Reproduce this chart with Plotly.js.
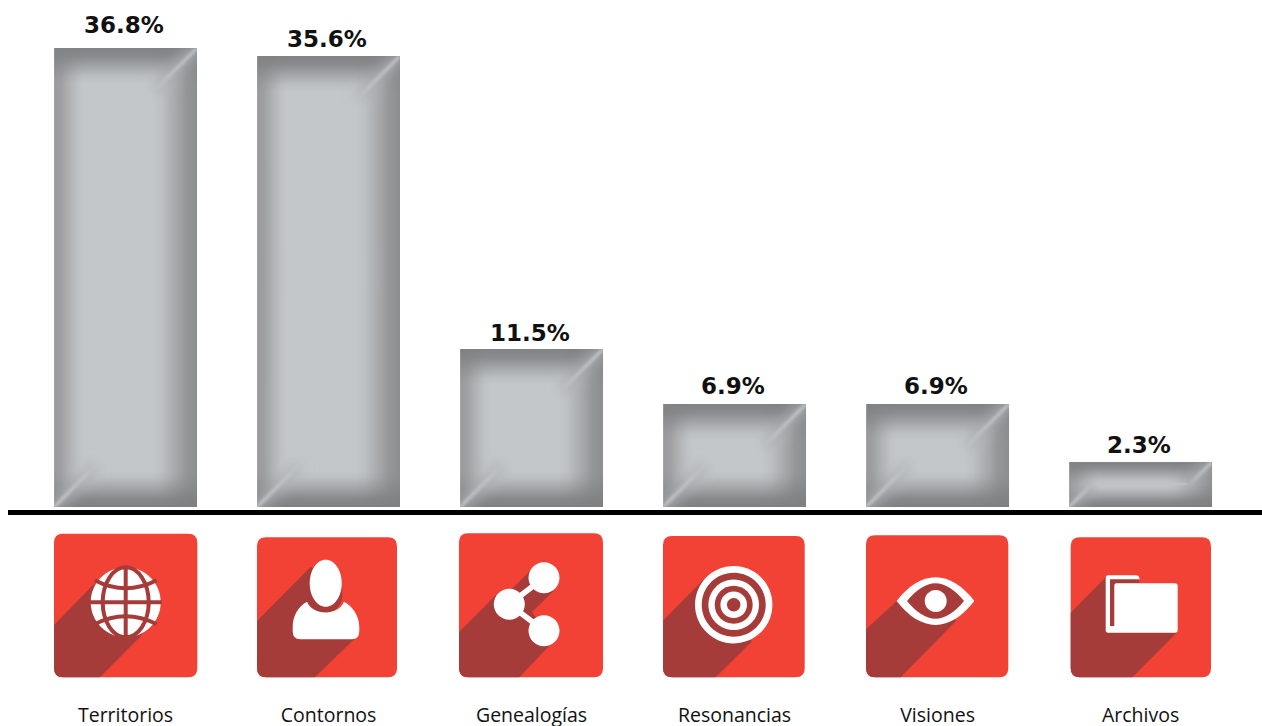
<!DOCTYPE html>
<html><head><meta charset="utf-8">
<script src="https://cdn.plot.ly/plotly-3.0.1.min.js"></script>
<style>html,body{margin:0;padding:0;background:#fff;overflow:hidden}</style></head>
<body><div id="chart" style="width:1262px;height:726px"></div>
<script>
// Data
const categories = ["Territorios","Contornos","Genealogías","Resonancias","Visiones","Archivos"];
const percentLabels = ["36.8%","35.6%","11.5%","6.9%","6.9%","2.3%"];
// Bar lengths as drawn in the picture (the source graphic is not strictly proportional to its labels)
const barHeights = [36.8,36.17,12.67,8.26,8.26,3.61];
// Style
const labelLift = [8,2,1,3,3,2];
const RED="#f24236", DARK="#a53c39", W="#ffffff";

// pixel -> paper helpers for the icon artwork
const X=x=>((x-8)/1254).toFixed(5), Y=y=>(1-y/726).toFixed(5);
function path(cmds){return cmds.map(c=>{const k=c[0];let s=k;
  for(let i=1;i<c.length;i++){ if(k==='H')s+=X(c[i]); else if(k==='V')s+=Y(c[i]);
    else s+=(i>1?' ':'')+((i%2)?X(c[i]):Y(c[i]));}
  return s;}).join(' ');}
const K=0.5523;
function ell(cx,cy,rx,ry){return [['M',cx-rx,cy],['C',cx-rx,cy-K*ry,cx-K*rx,cy-ry,cx,cy-ry],['C',cx+K*rx,cy-ry,cx+rx,cy-K*ry,cx+rx,cy],
  ['C',cx+rx,cy+K*ry,cx+K*rx,cy+ry,cx,cy+ry],['C',cx-K*rx,cy+ry,cx-rx,cy+K*ry,cx-rx,cy],['Z']];}
function rrect(x0,y0,x1,y1,r){return [['M',x0+r,y0],['H',x1-r],['Q',x1,y0,x1,y0+r],['V',y1-r],['Q',x1,y1,x1-r,y1],['H',x0+r],['Q',x0,y1,x0,y1-r],['V',y0+r],['Q',x0,y0,x0+r,y0],['Z']];}
const shapes=[];
function fill(cmds,c){shapes.push({type:'path',xref:'paper',yref:'paper',path:path(cmds),fillcolor:c,line:{width:0},layer:'above'});}
function stroke(cmds,c,w){shapes.push({type:'path',xref:'paper',yref:'paper',path:path(cmds),line:{color:c,width:w},layer:'above'});}
function card(x0,y0,x1,y1,pts){const r=9;fill(rrect(x0,y0,x1,y1,r),RED);
  const p=[['M',pts[0][0],pts[0][1]]].concat(pts.slice(1).map(q=>['L',q[0],q[1]]));
  fill(p.concat([['H',x0+r],['Q',x0,y1,x0,y1-r],['Z']]),DARK);}

// Territorios: globe
card(54,533.7,197.3,677.3,[[54,625],[93,585],[125,570],[158,612],[140,637],[100,677.3]]);
(function(){const cx=125.7,cy=602.3,R=35,LW=4;
  fill(ell(cx,cy,R,R),W);
  stroke([['M',cx,cy-R-1],['L',cx,cy+R+1]],DARK,LW);
  stroke([['M',cx-R-1,cy],['L',cx+R+1,cy]],DARK,LW);
  stroke(ell(cx,cy,23,R),DARK,LW);
  stroke([['M',cx-31,cy-22],['Q',cx,cy-6,cx+31,cy-22]],DARK,LW);
  stroke([['M',cx-31,cy+22],['Q',cx,cy+6,cx+31,cy+22]],DARK,LW);
})();
// Contornos: person
card(257,537.3,397,677.3,[[257,621],[310.7,566.7],[326,575],[330,612],[352,628],[356.7,636.7],[315,677.3]]);
fill(ell(325.7,595,16.6,18),DARK);
fill([['M',300,639.3],['Q',292.7,639.3,292.7,631],['V',627],['C',292.7,615,299,606,307,601.7],['C',313,616,338,616,344,601.7],['C',352,606,359.3,615,359.3,627],['V',631],['Q',359.3,639.3,352,639.3],['Z']],W);
fill(ell(325.7,583.3,16,23.5),W);
// Genealogías: share
card(459,533.3,603,677.3,[[459,632],[498,593],[512,589],[530,571],[544,578],[553.5,591],[532,612],[553,642],[519.3,677.3]]);
stroke([['M',509.3,604.3],['L',544,577.7]],W,5.5);
stroke([['M',509.3,604.3],['L',544,630.7]],W,5.5);
fill(ell(544,577.7,15.5,15.5),W);fill(ell(509.3,604.3,15.5,15.5),W);fill(ell(544,630.7,15.5,15.5),W);
// Resonancias: target
card(663,536,804.7,677.3,[[663,620.7],[705,578],[745,600],[751.7,641.7],[715.7,677.3]]);
[[38.7,W],[32,DARK],[25.3,W],[19,DARK],[13.3,W],[6.7,DARK]].forEach(a=>fill(ell(733.7,604.7,a[0],a[0]),a[1]));
// Visiones: eye
card(866,535.3,1008.3,677.3,[[866,629.3],[896.7,601],[950,605],[956,621],[900.7,677.3]]);
fill([['M',896.7,601],['C',908,586,922,577.3,935.5,577.3],['C',949,577.3,963,586,974.3,601],['C',963,616,949,625,935.5,625],['C',922,625,908,616,896.7,601],['Z']],W);
fill([['M',907,601],['C',916,590,926,583.3,935.5,583.3],['C',945,583.3,955,590,964,601],['C',955,612,945,618.7,935.5,618.7],['C',926,618.7,916,612,907,601],['Z']],DARK);
fill(ell(935.7,601,11,11),W);
// Archivos: folder
card(1070.7,537.3,1211,677.3,[[1070.7,612.7],[1106,577],[1139,579.5],[1139,584],[1177.7,631.7],[1132.3,677.3]]);
fill([['M',1108,575.3],['H',1136],['Q',1139.5,575.3,1139.5,579.3],['H',1110],['V',626],['H',1114.3],['V',585.5],['Q',1114.3,583.3,1116.5,583.3],['H',1175],['Q',1177.7,583.3,1177.7,586],['V',630],['Q',1177.7,632.7,1175,632.7],['H',1108],['Q',1105.7,632.7,1105.7,630],['V',578],['Q',1105.7,575.3,1108,575.3],['Z']],W);

const annotations = categories.map((c,i)=>({x:c,y:barHeights[i],xref:'x',yref:'y',text:percentLabels[i],showarrow:false,
  yanchor:'bottom',xanchor:'center',xshift:-1.5,yshift:labelLift[i],
  font:{family:'"DejaVu Sans"',size:23,color:'#111',weight:700}}));

const trace={type:'bar',x:categories,y:barHeights,width:0.704,hoverinfo:'skip',
  marker:{color:'#c3c7c9',line:{width:0}}};
const layout={width:1262,height:726,margin:{l:8,r:0,t:0,b:0},paper_bgcolor:'#fff',plot_bgcolor:'#fff',showlegend:false,
  xaxis:{type:'category',categoryorder:'array',categoryarray:categories,range:[-0.579,5.598],anchor:'free',position:1-511.5/726,
    showline:true,linecolor:'#000',linewidth:5,showgrid:false,zeroline:false,ticks:'',ticklabelstandoff:184,
    tickfont:{family:'"Open Sans"',size:19.5,color:'#111'}},
  yaxis:{range:[-219/12.47,507/12.47],domain:[0,1],visible:false,showgrid:false,zeroline:false},
  shapes,annotations};

Plotly.newPlot('chart',[trace],layout,{displayModeBar:false,responsive:false}).then(gd=>{
  const NS='http://www.w3.org/2000/svg';
  const svg=gd.querySelector('svg.main-svg');
  const defs=svg.querySelector('defs')||svg.insertBefore(document.createElementNS(NS,'defs'),svg.firstChild);
  const mk=(n,a,p)=>{const e=document.createElementNS(NS,n);for(const k in a)e.setAttribute(k,a[k]);if(p)p.appendChild(e);return e;};
  function grad(id,x1,y1,x2,y2,col){const g=mk('linearGradient',{id,x1,y1,x2,y2},defs);
    [[0,1],[.25,.85],[.5,.5],[.8,.12],[1,0]].forEach(s=>mk('stop',{offset:s[0],'stop-color':col,'stop-opacity':s[1]},g));}
  grad('gT',0,0,0,1,'#808284');grad('gB',0,1,0,0,'#7f8082');grad('gL',0,0,1,0,'#9a9a9c');grad('gR',1,0,0,0,'#8d8e90');
  const f=mk('filter',{id:'soft',x:'-50%',y:'-50%',width:'200%',height:'200%'},defs);mk('feGaussianBlur',{stdDeviation:1.8},f);
  const f2=mk('filter',{id:'soft2',x:'-50%',y:'-50%',width:'200%',height:'200%'},defs);mk('feGaussianBlur',{stdDeviation:6},f2);
  gd.querySelectorAll('.bars .point path').forEach((p,i)=>{
    const b=p.getBBox(),w=b.width,h=b.height,id='bevel'+i;
    const pat=mk('pattern',{id,patternUnits:'userSpaceOnUse',x:b.x,y:b.y,width:w,height:h},defs);
    mk('rect',{width:w,height:h,fill:'#c3c7c9'},pat);
    const v=Math.min(36,h/2),l=30,r=44;
    mk('rect',{x:0,y:0,width:l,height:h,fill:'url(#gL)'},pat);
    mk('rect',{x:w-r,y:0,width:r,height:h,fill:'url(#gR)'},pat);
    mk('rect',{x:0,y:0,width:w,height:v,fill:'url(#gT)'},pat);
    mk('rect',{x:0,y:h-v,width:w,height:v,fill:'url(#gB)'},pat);
    const d=Math.min(42,h/2);
    [[w,0,w-d,d],[0,h,d,h-d]].forEach((q,j)=>{
      const gid='hl'+i+'_'+j;
      const lg=mk('linearGradient',{id:gid,gradientUnits:'userSpaceOnUse',x1:q[0],y1:q[1],x2:q[2],y2:q[3]},defs);
      mk('stop',{offset:0,'stop-color':'#c6cacc','stop-opacity':1},lg);
      mk('stop',{offset:.7,'stop-color':'#c3c7c9','stop-opacity':.9},lg);
      mk('stop',{offset:1,'stop-color':'#c3c7c9','stop-opacity':.3},lg);
      mk('line',{x1:q[0],y1:q[1],x2:q[2],y2:q[3],stroke:'#aeb1b3','stroke-width':14,filter:'url(#soft2)',opacity:.75},pat);
      mk('line',{x1:q[0],y1:q[1],x2:q[2],y2:q[3],stroke:'url(#'+gid+')','stroke-width':3,filter:'url(#soft)'},pat);
    });
    if(h<60) mk('line',{x1:25,y1:h/2,x2:w-25,y2:h/2-1,stroke:'#bfc3c5','stroke-width':4,filter:'url(#soft)'},pat);
    p.style.fill='url(#'+id+')';
  });
});
</script></body></html>
